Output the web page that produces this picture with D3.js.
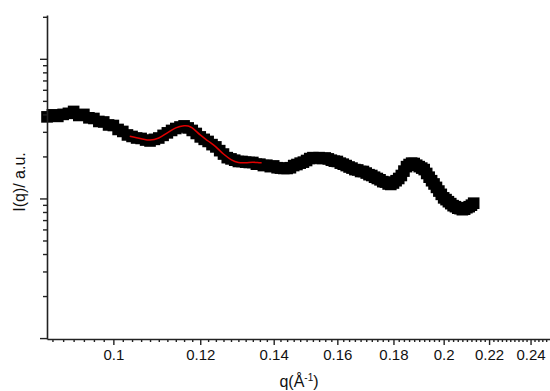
<!DOCTYPE html>
<html>
<head>
<meta charset="utf-8">
<script src="https://cdn.jsdelivr.net/npm/d3@7"></script>
<style>
  html, body { margin: 0; padding: 0; background: #fff; }
  svg { display: block; font-family: "Liberation Sans", Arial, sans-serif; }
</style>
</head>
<body>
<div id="chart"></div>
<script>
// measured scattering curve, q in 1/Å, intensity in arbitrary units
const qValues = [
  0.087, 0.088, 0.089, 0.090, 0.091, 0.092, 0.093, 0.094, 0.095, 0.096,
  0.097, 0.098, 0.099, 0.100, 0.101, 0.102, 0.103, 0.104, 0.105, 0.106,
  0.107, 0.108, 0.109, 0.110, 0.111, 0.112, 0.113, 0.114, 0.115, 0.116,
  0.117, 0.118, 0.119, 0.120, 0.121, 0.122, 0.123, 0.124, 0.125, 0.126,
  0.127, 0.128, 0.129, 0.130, 0.131, 0.132, 0.133, 0.134, 0.135, 0.136,
  0.137, 0.138, 0.139, 0.140, 0.141, 0.142, 0.143, 0.144, 0.145, 0.146,
  0.147, 0.148, 0.149, 0.150, 0.151, 0.152, 0.153, 0.154, 0.155, 0.156,
  0.157, 0.158, 0.159, 0.160, 0.161, 0.162, 0.163, 0.164, 0.165, 0.166,
  0.167, 0.168, 0.169, 0.170, 0.171, 0.172, 0.173, 0.174, 0.175, 0.176,
  0.177, 0.178, 0.179, 0.180, 0.181, 0.182, 0.183, 0.184, 0.185, 0.186,
  0.187, 0.188, 0.189, 0.190, 0.191, 0.192, 0.193, 0.194, 0.195, 0.196,
  0.197, 0.198, 0.199, 0.200, 0.201, 0.202, 0.203, 0.204, 0.205, 0.206,
  0.207, 0.208, 0.209, 0.210, 0.211, 0.212, 0.213
];
const intensity = [
  38.4, 39.7, 38.7, 40.0, 40.7, 42.0, 39.3, 40.0, 37.8, 37.4,
  35.6, 35.3, 33.6, 33.3, 31.2, 30.2, 28.5, 27.8, 27.1, 26.9,
  26.2, 25.8, 26.5, 27.1, 28.3, 29.5, 30.7, 31.7, 32.5, 33.1,
  32.0, 30.7, 29.2, 27.6, 26.5, 25.6, 24.3, 23.4, 22.0, 20.8,
  19.6, 19.2, 18.8, 18.4, 18.4, 18.2, 18.1, 18.1, 17.6, 17.6,
  17.2, 17.3, 16.9, 17.1, 16.6, 16.5, 16.4, 16.4, 16.6, 17.2,
  17.5, 17.9, 18.2, 18.7, 19.3, 19.6, 19.5, 19.6, 19.3, 19.5,
  19.2, 18.8, 18.5, 18.4, 17.9, 17.6, 17.2, 16.8, 16.5, 16.1,
  16.0, 15.6, 15.6, 15.2, 14.8, 14.6, 14.2, 13.9, 13.6, 13.2,
  13.1, 12.7, 12.6, 12.9, 13.4, 13.9, 14.6, 15.7, 16.9, 17.5,
  17.9, 17.8, 17.3, 16.9, 16.5, 16.1, 15.1, 14.2, 13.4, 12.7,
  12.0, 11.3, 10.7, 10.1, 9.81, 9.48, 9.18, 8.88, 8.73, 8.52,
  8.45, 8.31, 8.38, 8.59, 8.73, 8.95, 9.25
];

// fitted model over the first correlation peak
const fitQ = [0.1035, 0.106, 0.108, 0.110, 0.112, 0.114, 0.116, 0.117, 0.118, 0.120,
  0.122, 0.124, 0.126, 0.128, 0.130, 0.132, 0.134, 0.136, 0.1365];
const fitI = [27.9, 26.8, 26.2, 27.1, 29.5, 32.0, 33.1, 33.0, 32.0, 28.5,
  25.8, 23.4, 20.8, 19.0, 18.1, 18.0, 18.2, 18.0, 18.0];

const xMajorTicks = [0.1, 0.12, 0.14, 0.16, 0.18, 0.2, 0.22, 0.24];
const xTickLabels = ['0.1', '0.12', '0.14', '0.16', '0.18', '0.2', '0.22', '0.24'];
const yMajorTicks = [1, 10, 100];

const width = 550;
const height = 391;

const svg = d3.select('#chart')
  .append('svg')
  .attr('width', width)
  .attr('height', height);

// both axes are logarithmic
const x = d3.scaleLog().domain([0.087, 0.25]).range([47, 550]);
const y = d3.scaleLog().domain([0.985, 206]).range([339, 15]);

const points = qValues.map((q, i) => ({ q, I: intensity[i] }));
const fit = fitQ.map((q, i) => ({ q, I: fitI[i] }));

// minor ticks every 0.002 on x, 2..9 per decade on y
const xMinor = d3.range(88, 249, 2).map(d => d / 1000).filter(d => !xMajorTicks.some(t => Math.abs(t - d) < 1e-6));
const yMinor = [];
[1, 10, 100].forEach(dec => {
  for (let k = 2; k <= 9; k++) {
    if (dec * k < 206) yMinor.push(dec * k);
  }
});

// data: big black squares
svg.append('g')
  .selectAll('path')
  .data(points)
  .enter()
  .append('path')
  .attr('transform', d => `translate(${x(d.q)},${y(d.I)})`)
  .attr('d', d3.symbol().type(d3.symbolSquare).size(135))
  .attr('fill', '#000');

// fit line
svg.append('path')
  .datum(fit)
  .attr('fill', 'none')
  .attr('stroke', '#e00000')
  .attr('stroke-width', 1.5)
  .attr('d', d3.line().x(d => x(d.q)).y(d => y(d.I)).curve(d3.curveCatmullRom));

// x axis
const xAxis = svg.append('g').attr('transform', `translate(0,${y.range()[0]})`);
xAxis.call(d3.axisBottom(x).tickValues(xMinor).tickSize(3).tickSizeOuter(0).tickFormat(''));
xAxis.select('.domain').remove();
const xMajor = svg.append('g').attr('transform', `translate(0,${y.range()[0]})`)
  .call(d3.axisBottom(x).tickValues(xMajorTicks).tickSize(6).tickSizeOuter(0)
    .tickFormat((d, i) => xTickLabels[i]));
xMajor.select('.domain').attr('stroke', '#222').attr('stroke-width', 1.6);
xMajor.selectAll('.tick text')
  .attr('y', 10)
  .style('font-size', '15px')
  .style('fill', '#111');

// y axis (no labels)
const yAxis = svg.append('g').attr('transform', `translate(${x.range()[0]},0)`);
yAxis.call(d3.axisLeft(y).tickValues(yMinor).tickSize(4).tickSizeOuter(0).tickFormat(''));
yAxis.select('.domain').remove();
const yMajor = svg.append('g').attr('transform', `translate(${x.range()[0]},0)`)
  .call(d3.axisLeft(y).tickValues(yMajorTicks).tickSize(7).tickSizeOuter(0).tickFormat(''));
yMajor.select('.domain').attr('stroke', '#222').attr('stroke-width', 1.6);
svg.selectAll('.tick line').attr('stroke', '#222').attr('stroke-width', 1.4);

// axis titles
const xTitle = svg.append('text')
  .attr('x', 299)
  .attr('y', 387)
  .attr('text-anchor', 'middle')
  .style('font-size', '16px')
  .style('fill', '#111');
xTitle.append('tspan').text('q(Å');
xTitle.append('tspan').attr('dy', -6).style('font-size', '10px').text('-1');
xTitle.append('tspan').attr('dy', 6).text(')');

svg.append('text')
  .attr('transform', 'rotate(-90)')
  .attr('x', -182)
  .attr('y', 25)
  .attr('text-anchor', 'middle')
  .style('font-size', '16px')
  .style('fill', '#111')
  .text('I(q)/ a.u.');
</script>
</body>
</html>
